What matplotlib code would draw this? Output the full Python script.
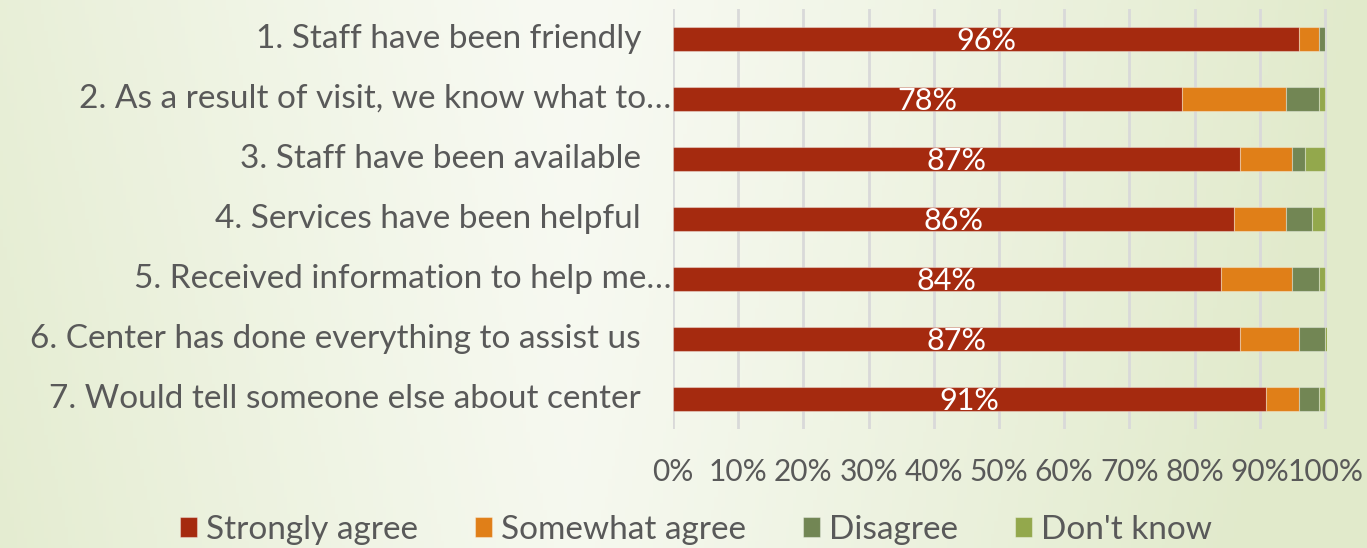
import numpy as np
import matplotlib
matplotlib.use("Agg")
import matplotlib.pyplot as plt
from matplotlib.colors import to_rgb

# survey items, top to bottom
questions = [
    "1. Staff have been friendly",
    "2. As a result of visit, we know what to\u2026",
    "3. Staff have been available",
    "4. Services have been helpful",
    "5. Received information to help me\u2026",
    "6. Center has done everything to assist us",
    "7. Would tell someone else about center",
]
truncated = [False, True, False, False, True, False, False]

strongly_agree = [96, 78, 87, 86, 84, 87, 91]
somewhat_agree = [3, 16, 8, 8, 11, 9, 5]
disagree = [1, 5, 2, 4, 4, 4, 3]
dont_know = [0, 1, 3, 2, 1, 0.4, 1]

series_names = ["Strongly agree", "Somewhat agree", "Disagree", "Don't know"]
series_colors = ["#A52A0F", "#E07F18", "#728654", "#93A84C"]
xticks = list(range(0, 101, 10))

FONT = "Lato"
GREY = "#595959"
W, H = 1367, 548

fig = plt.figure(figsize=(W / 100, H / 100), dpi=100)

# soft green slide background, lightest a bit left of centre
bg = fig.add_axes([0, 0, 1, 1], zorder=-10)
xx, yy = np.meshgrid(np.linspace(0, 1, 400), np.linspace(0, 1, 160))
t = np.clip(np.abs(xx - 0.42) / 0.58 + 0.15 * yy, 0, 1) ** 1.2
light = np.array(to_rgb("#F8FAF3"))
green = np.array(to_rgb("#E1EACB"))
img = light[None, None, :] * (1 - t[..., None]) + green[None, None, :] * t[..., None]
bg.imshow(img, aspect="auto", extent=[0, 1, 0, 1], origin="upper")
bg.axis("off")

ax = fig.add_axes([673 / W, 1 - 429 / H, 654 / W, 420 / H])
ax.patch.set_alpha(0)

y = np.arange(len(questions))
left = np.zeros(len(questions))
for vals, name, col in zip([strongly_agree, somewhat_agree, disagree, dont_know],
                           series_names, series_colors):
    ax.barh(y, vals, left=left, height=0.4, color=col, label=name,
            edgecolor=(1, 1, 1, 0.35), linewidth=0.8, zorder=3)
    left += np.array(vals, dtype=float)

for yi, v in zip(y, strongly_agree):
    ax.text(v / 2, yi + 0.03, f"{v}%", ha="center", va="center", color="white",
            fontsize=22, family=FONT, zorder=4)

ax.set_xlim(0, 100.3)
ax.set_ylim(len(questions) - 0.5, -0.5)
ax.set_xticks(xticks)
ax.set_xticklabels([f"{v}%" for v in xticks])
ax.set_yticks([])
ax.xaxis.grid(True, color="#D9D9D9", linewidth=2, zorder=0)
ax.tick_params(axis="x", length=0, pad=21, labelsize=21.5, labelcolor=GREY)
for lbl in ax.get_xticklabels():
    lbl.set_family(FONT)
for s in ax.spines.values():
    s.set_visible(False)

# category labels, right-aligned against the axis
for yi, q, cut in zip(y, questions, truncated):
    ax.annotate(q, xy=(0, yi), xycoords=("axes fraction", "data"),
                xytext=(-1 if cut else -23, 0), textcoords="offset points",
                ha="right", va="center", fontsize=24, color=GREY, family=FONT)

handles, labels = ax.get_legend_handles_labels()
fig.legend(handles, labels, loc="center", bbox_to_anchor=(0.509, 0.033), ncol=4,
           frameon=False, prop={"family": FONT, "size": 24}, labelcolor=GREY,
           handlelength=0.52, handleheight=0.52, handletextpad=0.27, columnspacing=1.7,
           borderpad=0)

fig.savefig("out.png", dpi=100)
